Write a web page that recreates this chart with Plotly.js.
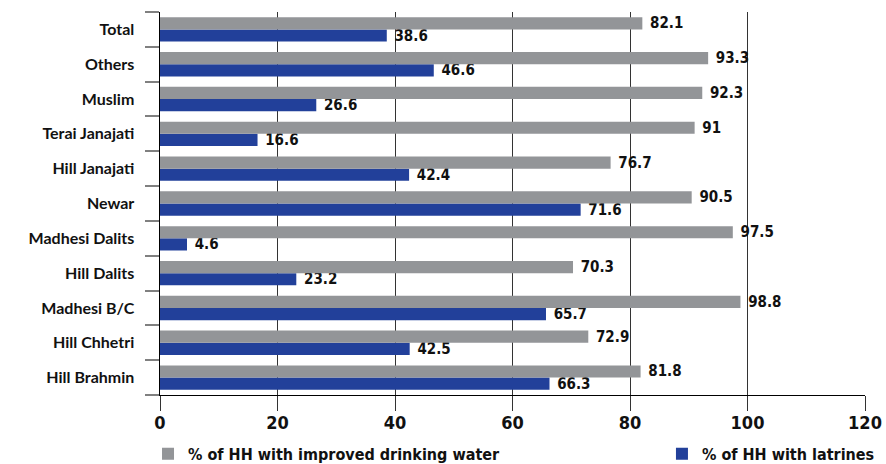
<!DOCTYPE html>
<html>
<head>
<meta charset="utf-8">
<script src="https://cdn.plot.ly/plotly-3.0.1.min.js"></script>
<style>html,body{margin:0;padding:0;background:#fff}#chart{width:886px;height:464px}</style>
</head>
<body>
<div id="chart"></div>
<script>
const categories = ["Hill Brahmin","Hill Chhetri","Madhesi B/C","Hill Dalits","Madhesi Dalits","Newar","Hill Janajati","Terai Janajati","Muslim","Others","Total"];
const drinkingWater = [81.8,72.9,98.8,70.3,97.5,90.5,76.7,91,92.3,93.3,82.1];
const latrines = [66.3,42.5,65.7,23.2,4.6,71.6,42.4,16.6,26.6,46.6,38.6];
const seriesNames = ["% of HH with improved drinking water","% of HH with latrines"];
const xTicks = [0,20,40,60,80,100,120];

const narrow = "DejaVu Sans Condensed, Liberation Sans Narrow, Arial Narrow, sans-serif";
const catFont = "Lato, Open Sans, sans-serif";

const traces = [
  {
    type: "bar", orientation: "h", name: seriesNames[1],
    y: categories, x: latrines,
    marker: {color: "#22409A"},
    text: latrines.map(String), texttemplate: "\u00a0%{text}",
    textposition: "outside", cliponaxis: false,
    constraintext: "none",
    textfont: {family: narrow, size: 15, color: "#111", weight: "bold"},
    legend: "legend2"
  },
  {
    type: "bar", orientation: "h", name: seriesNames[0],
    y: categories, x: drinkingWater,
    marker: {color: "#939598"},
    text: drinkingWater.map(String), texttemplate: "\u00a0%{text}",
    textposition: "outside", cliponaxis: false,
    constraintext: "none",
    textfont: {family: narrow, size: 15, color: "#111", weight: "bold"},
    legend: "legend"
  }
];

const legendFont = {family: narrow, size: 16, color: "#111", weight: "bold"};

const layout = {
  width: 886, height: 464,
  margin: {l: 160, r: 21, t: 12, b: 69, autoexpand: false},
  paper_bgcolor: "#fff", plot_bgcolor: "#fff",
  barmode: "group", bargap: 0.3, bargroupgap: 0,
  showlegend: true,
  legend: {
    orientation: "h", x: -0.017, xanchor: "left", y: -0.109, yanchor: "top",
    font: legendFont, bgcolor: "rgba(0,0,0,0)"
  },
  legend2: {
    orientation: "h", x: 0.712, xanchor: "left", y: -0.109, yanchor: "top",
    font: legendFont, bgcolor: "rgba(0,0,0,0)"
  },
  xaxis: {
    range: [0, 120], tickvals: xTicks, ticktext: xTicks.map(String),
    showgrid: true, gridcolor: "#333", gridwidth: 1,
    showline: true, linecolor: "#000", linewidth: 1,
    ticks: "outside", ticklen: 15, tickcolor: "#333", tickwidth: 1,
    ticklabelstandoff: -4,
    tickfont: {family: narrow, size: 18, color: "#111", weight: "bold"},
    zeroline: false, fixedrange: true
  },
  yaxis: {
    type: "category",
    showgrid: false, showline: true, linecolor: "#000", linewidth: 1.5,
    ticks: "outside", tickson: "boundaries", ticklen: 14, tickcolor: "#808080", tickwidth: 2,
    ticklabelstandoff: 21,
    tickfont: {family: catFont, size: 16, color: "#111", weight: "bold"},
    fixedrange: true
  }
};

Plotly.newPlot("chart", traces, layout, {displayModeBar: false, staticPlot: true});
</script>
</body>
</html>
